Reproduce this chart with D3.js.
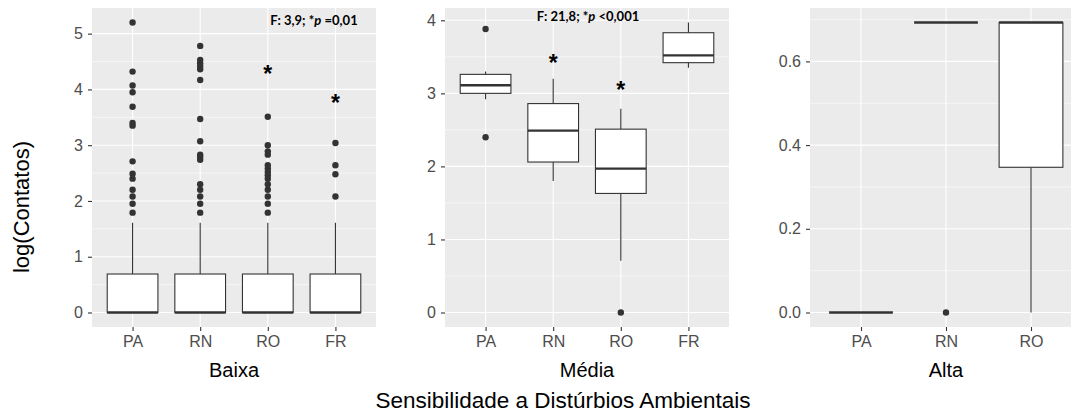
<!DOCTYPE html>
<html>
<head>
<meta charset="utf-8">
<script src="https://cdn.jsdelivr.net/npm/d3@7"></script>
<style>
    body { margin: 0; background: #fff; }
    svg { display: block; font-family: "Liberation Sans", Arial, sans-serif; }
</style>
</head>
<body>
<svg id="chart" width="1071" height="414"></svg>
<script>
// Baixa
const baixaCats = ["PA", "RN", "RO", "FR"];
// [lower whisker, q1, median, q3, upper whisker]
const baixaStats = [
    [0, 0, 0, 0.69, 1.61],
    [0, 0, 0, 0.69, 1.61],
    [0, 0, 0, 0.69, 1.61],
    [0, 0, 0, 0.69, 1.61]
];
const baixaOutliers = [
    [5.2, 4.32, 4.07, 3.95, 3.69, 3.40, 3.35, 2.71, 2.49, 2.40, 2.20, 2.08, 1.95, 1.79],
    [4.78, 4.53, 4.47, 4.41, 4.36, 4.17, 3.47, 3.07, 2.83, 2.79, 2.74, 2.30, 2.20, 2.08, 1.95, 1.79],
    [3.51, 3.00, 2.89, 2.83, 2.64, 2.58, 2.52, 2.46, 2.40, 2.30, 2.20, 2.08, 1.95, 1.79],
    [3.04, 2.64, 2.48, 2.08]
];
const baixaTicks = [0, 1, 2, 3, 4, 5];
const baixaStars = [null, null, 4.36, 3.84];
const baixaNote = ["F: 3,9; *", "p", " =0,01"];

// Média
const mediaCats = ["PA", "RN", "RO", "FR"];
const mediaStats = [
    [2.92, 3.00, 3.11, 3.26, 3.30],
    [1.80, 2.06, 2.49, 2.86, 3.20],
    [0.71, 1.63, 1.97, 2.51, 2.79],
    [3.35, 3.42, 3.52, 3.83, 3.97]
];
const mediaOutliers = [[3.88, 2.40], [], [0], []];
const mediaTicks = [0, 1, 2, 3, 4];
const mediaStars = [null, 3.49, 3.12, null];
const mediaNote = ["F: 21,8; *", "p", " <0,001"];

// Alta
const altaCats = ["PA", "RN", "RO"];
const altaStats = [
    [0, 0, 0, 0, 0],
    [0.693, 0.693, 0.693, 0.693, 0.693],
    [0, 0.347, 0.693, 0.693, 0.693]
];
const altaOutliers = [[], [0], []];
const altaTicks = [0, 0.2, 0.4, 0.6];

const svg = d3.select("#chart");
const panelTop = 8, panelBottom = 327;
const dark = "#333333";

function drawPanel(opts) {
    const { left, width, cats, stats, outliers, ticks, fmt, stars, note, noteX, noteY, title } = opts;
    const g = svg.append("g");

    const all = stats.flat().concat(outliers.flat());
    const lo = d3.min(all), hi = d3.max(all);
    const pad = (hi - lo) * 0.05;
    const y = d3.scaleLinear().domain([lo - pad, hi + pad]).range([panelBottom, panelTop]);

    // discrete x with ggplot's 0.6 expansion
    const x = d3.scalePoint().domain(cats).range([0, width]).padding(0.6);
    const step = x.step();
    const bw = step * 0.75;

    g.append("rect")
        .attr("x", left).attr("y", panelTop)
        .attr("width", width).attr("height", panelBottom - panelTop)
        .attr("fill", "#EBEBEB");

    // minor grid
    const minor = ticks.slice(0, -1).map((t, i) => (t + ticks[i + 1]) / 2);
    minor.push(ticks[ticks.length - 1] + (ticks[1] - ticks[0]) / 2);
    minor.filter(m => y(m) > panelTop).forEach(m => {
        g.append("line")
            .attr("x1", left).attr("x2", left + width)
            .attr("y1", y(m)).attr("y2", y(m))
            .attr("stroke", "#fff").attr("stroke-width", 0.55);
    });
    ticks.forEach(t => {
        g.append("line")
            .attr("x1", left).attr("x2", left + width)
            .attr("y1", y(t)).attr("y2", y(t))
            .attr("stroke", "#fff").attr("stroke-width", 1.1);
    });
    cats.forEach(c => {
        g.append("line")
            .attr("x1", left + x(c)).attr("x2", left + x(c))
            .attr("y1", panelTop).attr("y2", panelBottom)
            .attr("stroke", "#fff").attr("stroke-width", 1.1);
    });

    // y axis
    const ya = g.append("g")
        .attr("transform", `translate(${left},0)`)
        .call(d3.axisLeft(y).tickValues(ticks).tickFormat(fmt).tickSizeOuter(0).tickSize(4).tickPadding(5));
    ya.select(".domain").remove();
    ya.selectAll(".tick line").attr("stroke", dark).attr("stroke-width", 1.1);
    ya.selectAll(".tick text").attr("fill", "#4D4D4D").style("font-size", "16px")
        .style("font-family", "'Liberation Sans', Arial, sans-serif");

    // x axis
    const xa = g.append("g")
        .attr("transform", `translate(${left},${panelBottom})`)
        .call(d3.axisBottom(x).tickSizeOuter(0).tickSize(4).tickPadding(5));
    xa.select(".domain").remove();
    xa.selectAll(".tick line").attr("stroke", dark).attr("stroke-width", 1.1);
    xa.selectAll(".tick text").attr("fill", "#4D4D4D").style("font-size", "16px")
        .style("font-family", "'Liberation Sans', Arial, sans-serif");

    // boxes
    cats.forEach((c, i) => {
        const [wl, q1, med, q3, wh] = stats[i];
        const cx = left + x(c);
        g.append("line")
            .attr("x1", cx).attr("x2", cx).attr("y1", y(q3)).attr("y2", y(wh))
            .attr("stroke", dark).attr("stroke-width", 1.1);
        g.append("line")
            .attr("x1", cx).attr("x2", cx).attr("y1", y(q1)).attr("y2", y(wl))
            .attr("stroke", dark).attr("stroke-width", 1.1);
        g.append("rect")
            .attr("x", cx - bw / 2).attr("width", bw)
            .attr("y", y(q3)).attr("height", y(q1) - y(q3))
            .attr("fill", "#fff").attr("stroke", dark).attr("stroke-width", 1.1);
        g.append("line")
            .attr("x1", cx - bw / 2).attr("x2", cx + bw / 2)
            .attr("y1", y(med)).attr("y2", y(med))
            .attr("stroke", dark).attr("stroke-width", 2.4);
        g.selectAll(null).data(outliers[i]).enter().append("circle")
            .attr("cx", cx).attr("cy", d => y(d)).attr("r", 3.2)
            .attr("fill", dark);
        if (stars && stars[i] != null) {
            g.append("text")
                .attr("x", cx).attr("y", y(stars[i]) + 13)
                .attr("text-anchor", "middle")
                .style("font-size", "23px").style("font-weight", "bold")
                .attr("fill", "#000")
                .text("*");
        }
    });

    if (note) {
        const t = g.append("text")
            .attr("x", noteX).attr("y", noteY)
            .attr("text-anchor", "middle")
            .style("font-family", "Lato, 'Open Sans', sans-serif")
            .style("font-size", "13px").style("font-weight", "bold")
            .attr("fill", "#000");
        t.append("tspan").text(note[0]);
        t.append("tspan").style("font-style", "italic").text(note[1]);
        t.append("tspan").text(note[2]);
    }

    g.append("text")
        .attr("x", left + width / 2).attr("y", 377)
        .attr("text-anchor", "middle")
        .style("font-size", "20px")
        .attr("fill", "#000")
        .text(title);
}

drawPanel({ left: 92, width: 284, cats: baixaCats, stats: baixaStats, outliers: baixaOutliers,
    ticks: baixaTicks, fmt: d3.format("d"), stars: baixaStars, note: baixaNote,
    noteX: 314, noteY: 25, title: "Baixa" });
drawPanel({ left: 445, width: 284, cats: mediaCats, stats: mediaStats, outliers: mediaOutliers,
    ticks: mediaTicks, fmt: d3.format("d"), stars: mediaStars, note: mediaNote,
    noteX: 588, noteY: 21, title: "Média" });
drawPanel({ left: 810, width: 272, cats: altaCats, stats: altaStats, outliers: altaOutliers,
    ticks: altaTicks, fmt: d3.format(".1f"), title: "Alta" });

svg.append("text")
    .attr("transform", "translate(29,207) rotate(-90)")
    .attr("text-anchor", "middle")
    .style("font-size", "22px")
    .attr("fill", "#000")
    .text("log(Contatos)");

svg.append("text")
    .attr("x", 563).attr("y", 408)
    .attr("text-anchor", "middle")
    .style("font-size", "22.5px")
    .attr("fill", "#000")
    .text("Sensibilidade a Distúrbios Ambientais");
</script>
</body>
</html>
